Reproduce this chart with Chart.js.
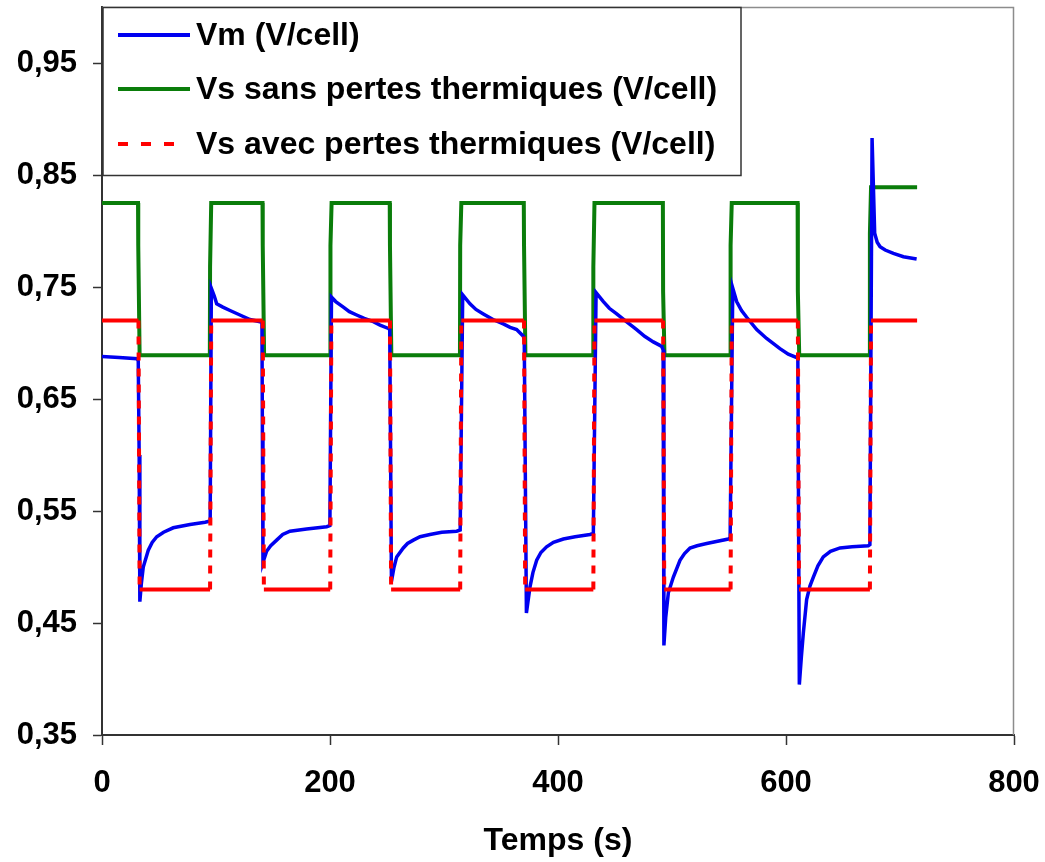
<!DOCTYPE html>
<html lang="fr">
<head>
<meta charset="utf-8">
<title>Tension cellule</title>
<script src="https://cdn.jsdelivr.net/npm/chart.js@4.4.0/dist/chart.umd.min.js"></script>
<style>
  html, body { margin: 0; padding: 0; background: #fff; }
  #graphe { display: block; }
</style>
</head>
<body>
<canvas id="graphe" width="1045" height="862"></canvas>
<script>
// --- DONNÉES ---
const nomsSeries = ['Vm (V/cell)', 'Vs sans pertes thermiques (V/cell)', 'Vs avec pertes thermiques (V/cell)'];
const xTicks = [0, 200, 400, 600, 800];
const yTicks = [0.35, 0.45, 0.55, 0.65, 0.75, 0.85, 0.95];

// Vm mesurée
const vmTemps = [
    0, 15, 30.7, 31.8, 32.6, 33.2, 34.6, 36.2, 40.6, 44.0, 48.0, 54.0, 62.5, 77.2, 90.4, 94.9,
    95.9, 98.5, 100.6, 106.0, 112.3, 121.0, 129.8, 138.6, 140.3,
    140.7, 141.2, 144.4, 148.0, 153.2, 158.5, 164.9, 179.5, 197.1, 199.9,
    201.3, 205.0, 211.7, 217.0, 223.4, 230.0, 238.0, 243.9, 251.2, 252.4,
    253.9, 256.0, 258.5, 264.3, 268.0, 273.1, 279.0, 287.7, 298.0, 311.1, 314.2,
    316.4, 322.8, 328.0, 334.5, 343.0, 352.0, 358.0, 363.7, 369.6, 370.4,
    372.3, 375.4, 378.0, 381.3, 385.0, 390.0, 396.0, 404.7, 415.0, 428.1, 431.0,
    433.4, 439.8, 445.0, 451.5, 460.0, 469.0, 476.0, 483.6, 491.0, 492.2,
    492.9, 494.5, 496.8, 501.2, 507.0, 511.0, 515.8, 522.0, 530.4, 549.4, 551.0,
    553.3, 556.7, 561.0, 565.5, 574.3, 583.0, 594.7, 602.0, 609.4, 610.4,
    611.7, 613.5, 615.2, 618.1, 621.0, 624.0, 628.0, 632.7, 639.0, 647.4, 658.0, 672.2, 673.6,
    675.5, 677.8, 680.0, 682.5, 687.0, 694.2, 703.0, 714.6
];
const vmTension = [
    0.688, 0.687, 0.686, 0.684, 0.600, 0.469, 0.486, 0.500, 0.515, 0.522, 0.527, 0.531, 0.535, 0.538, 0.540, 0.541,
    0.749, 0.742, 0.735, 0.732, 0.729, 0.725, 0.721, 0.719, 0.718,
    0.620, 0.504, 0.514, 0.519, 0.524, 0.529, 0.532, 0.534, 0.536, 0.537,
    0.741, 0.737, 0.732, 0.728, 0.725, 0.722, 0.719, 0.716, 0.713, 0.712,
    0.487, 0.499, 0.509, 0.517, 0.521, 0.524, 0.527, 0.529, 0.531, 0.532, 0.533,
    0.743, 0.735, 0.730, 0.726, 0.721, 0.717, 0.714, 0.712, 0.706, 0.703,
    0.459, 0.482, 0.495, 0.506, 0.513, 0.518, 0.522, 0.525, 0.527, 0.529, 0.530,
    0.745, 0.737, 0.731, 0.726, 0.719, 0.712, 0.706, 0.701, 0.697, 0.694,
    0.430, 0.455, 0.477, 0.491, 0.506, 0.512, 0.517, 0.519, 0.521, 0.525, 0.526,
    0.749, 0.737, 0.729, 0.723, 0.712, 0.704, 0.695, 0.690, 0.687, 0.686,
    0.395, 0.420, 0.441, 0.471, 0.483, 0.491, 0.501, 0.509, 0.514, 0.517, 0.518, 0.519, 0.520,
    0.883, 0.798, 0.790, 0.786, 0.783, 0.780, 0.777, 0.775
];

// Vs simulée sans pertes thermiques
const vsSansTemps = [
    0, 31.6, 31.8, 33.0, 94.6, 94.8, 95.8, 140.8, 141.0, 142.2,
    200.2, 200.4, 201.4, 252.4, 252.6, 253.8, 314.0, 314.2, 315.2,
    370.0, 370.2, 371.4, 430.8, 431.0, 432.0, 492.0, 492.2, 493.4,
    551.2, 551.4, 552.4, 610.2, 610.4, 611.6, 673.4, 673.6, 674.6, 715
];
const vsSansTension = [
    0.825, 0.825, 0.787, 0.689, 0.689, 0.768, 0.825, 0.825, 0.787, 0.689,
    0.689, 0.787, 0.825, 0.825, 0.787, 0.689, 0.689, 0.787, 0.825,
    0.825, 0.787, 0.689, 0.689, 0.768, 0.825, 0.825, 0.746, 0.689,
    0.689, 0.787, 0.825, 0.825, 0.746, 0.689, 0.689, 0.798, 0.839, 0.839
];

// Vs simulée avec pertes thermiques
const vsAvecTemps = [
    0, 32.0, 33.0, 94.8, 95.8, 141.0, 142.0, 200.2, 201.2, 252.6, 253.6,
    314.2, 315.2, 370.2, 371.2, 431.0, 432.0, 492.2, 493.2, 551.4, 552.4,
    610.4, 611.4, 673.6, 674.6, 715
];
const vsAvecTension = [
    0.72, 0.72, 0.48, 0.48, 0.72, 0.72, 0.48, 0.48, 0.72, 0.72, 0.48,
    0.48, 0.72, 0.72, 0.48, 0.48, 0.72, 0.72, 0.48, 0.48, 0.72,
    0.72, 0.48, 0.48, 0.72, 0.72
];

const couleurs = ['#0000f0', '#0a7d0a', '#ff0000'];
const police = "'Liberation Sans', Arial, Helvetica, sans-serif";

function points(temps, valeurs) {
    return temps.map((t, i) => ({ x: t, y: valeurs[i] }));
}

// --- LÉGENDE DESSINÉE DANS LA ZONE DU GRAPHE ---
const legendeCadre = {
    id: 'legendeCadre',
    afterDatasetsDraw(chart) {
        const ctx = chart.ctx;
        const zone = chart.chartArea;
        ctx.save();

        // bordure grise haut / droite de la zone de tracé
        ctx.strokeStyle = '#8c8c8c';
        ctx.lineWidth = 1.5;
        ctx.beginPath();
        ctx.moveTo(zone.left, zone.top + 0.5);
        ctx.lineTo(zone.right - 0.5, zone.top + 0.5);
        ctx.lineTo(zone.right - 0.5, zone.bottom);
        ctx.stroke();

        // cadre de la légende
        const x0 = zone.left + 1, y0 = zone.top, x1 = 741, y1 = 175;
        ctx.fillStyle = '#fff';
        ctx.fillRect(x0, y0, x1 - x0, y1 - y0);
        ctx.strokeStyle = '#333';
        ctx.lineWidth = 1.5;
        ctx.strokeRect(x0, y0 + 0.5, x1 - x0, y1 - y0);

        const lignes = [35, 89, 144];
        const tirets = [[], [], [10, 13]];
        ctx.font = `bold 32px ${police}`;
        ctx.textBaseline = 'middle';
        ctx.textAlign = 'left';
        nomsSeries.forEach((nom, i) => {
            ctx.strokeStyle = couleurs[i];
            ctx.lineWidth = 4;
            ctx.setLineDash(tirets[i]);
            ctx.beginPath();
            ctx.moveTo(118, lignes[i]);
            ctx.lineTo(i === 2 ? 180 : 190, lignes[i]);
            ctx.stroke();
            ctx.setLineDash([]);
            ctx.fillStyle = '#000';
            ctx.fillText(nom, 196, lignes[i] + 1);
        });
        ctx.restore();
    }
};

// --- GRAPHE ---
const ctx = document.getElementById('graphe').getContext('2d');
new Chart(ctx, {
    type: 'line',
    data: {
        datasets: [
            {
                label: nomsSeries[0],
                data: points(vmTemps, vmTension),
                borderColor: couleurs[0],
                borderWidth: 3.5,
                pointRadius: 0,
                order: 1
            },
            {
                label: nomsSeries[1],
                data: points(vsSansTemps, vsSansTension),
                borderColor: couleurs[1],
                borderWidth: 4,
                pointRadius: 0,
                order: 2
            },
            {
                label: nomsSeries[2],
                data: points(vsAvecTemps, vsAvecTension),
                borderColor: couleurs[2],
                borderWidth: 4,
                pointRadius: 0,
                order: 0,
                // pointillés seulement sur les fronts (paliers en trait plein)
                segment: {
                    borderDash: c => c.p0.parsed.y === c.p1.parsed.y ? [] : [8, 8]
                }
            }
        ]
    },
    options: {
        responsive: false,
        animation: false,
        parsing: false,
        layout: { padding: { top: 7, right: 31, bottom: 0, left: 0 } },
        plugins: {
            legend: { display: false },
            tooltip: { enabled: false }
        },
        scales: {
            x: {
                type: 'linear',
                min: 0,
                max: 800,
                afterBuildTicks: s => { s.ticks = xTicks.map(v => ({ value: v })); },
                afterFit: s => {
                    s.height = 127;
                    s.paddingLeft = 0;
                    s.paddingRight = 0;
                },
                ticks: {
                    font: { family: police, size: 31, weight: 'bold' },
                    color: '#000',
                    padding: 20,
                    maxRotation: 0,
                    autoSkip: false
                },
                grid: { drawOnChartArea: false, tickLength: 10, tickColor: '#333', tickWidth: 1.5 },
                border: { color: '#333', width: 2 },
                title: {
                    display: true,
                    text: 'Temps (s)',
                    font: { family: police, size: 32, weight: 'bold' },
                    color: '#000',
                    padding: { top: 0, bottom: 2 }
                }
            },
            y: {
                type: 'linear',
                min: 0.35,
                max: 1.0,
                afterBuildTicks: s => { s.ticks = yTicks.map(v => ({ value: v })); },
                afterFit: s => {
                    s.width = 102;
                    s.paddingTop = 0;
                    s.paddingBottom = 0;
                },
                ticks: {
                    font: { family: police, size: 31, weight: 'bold' },
                    color: '#000',
                    padding: 16,
                    callback: v => v.toFixed(2).replace('.', ',')
                },
                grid: { drawOnChartArea: false, tickLength: 9, tickColor: '#333', tickWidth: 1.5 },
                border: { color: '#333', width: 2 }
            }
        }
    },
    plugins: [legendeCadre]
});
</script>
</body>
</html>
